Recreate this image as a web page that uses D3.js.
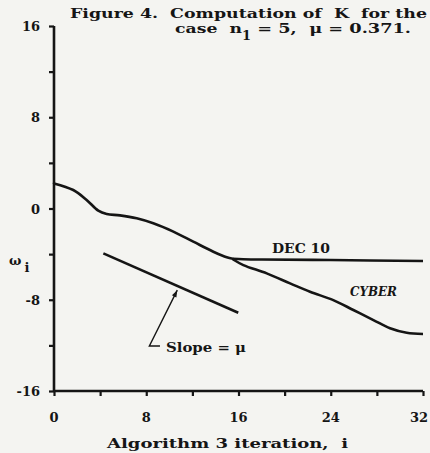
<!DOCTYPE html>
<html><head><meta charset="utf-8">
<script src="https://cdn.jsdelivr.net/npm/d3@7"></script>
<style>
html,body{margin:0;padding:0;background:#f4f4f1;}
svg{display:block;}
text{font-family:"DejaVu Serif","Liberation Serif",serif;font-weight:bold;fill:#151515;font-size:13px;white-space:pre;}
</style></head>
<body>
<svg id="c" width="430" height="453"></svg>
<script>
// Data
const xTicks = [0, 8, 16, 24, 32];
const xMinorTicks = [4, 12, 20, 28];
const yTicks = [16, 8, 0, -8, -16];
const yMinorTicks = [12, 4, -4, -12];
// Common part of both computations
const commonI = [0, 1.67, 2.83, 3.84, 4.57, 5.72, 7.17, 8.61, 10.35, 12.08, 13.82, 14.98, 15.5];
const commonW = [2.2, 1.62, 0.75, -0.19, -0.48, -0.6, -0.86, -1.3, -2.03, -2.91, -3.79, -4.28, -4.4];
const dec10I = [15.5, 16.4, 18, 24, 32];
const dec10W = [-4.4, -4.45, -4.47, -4.52, -4.6];
const cyberI = [15.5, 16.42, 18.45, 20.47, 22.2, 24.22, 25.96, 27.7, 29.14, 30.59, 32];
const cyberW = [-4.45, -4.96, -5.69, -6.56, -7.3, -8.03, -8.9, -9.78, -10.5, -10.9, -11.0];
const slopeI = [4.28, 15.98];
const slopeW = [-3.93, -9.14];
const leaderI = [9.19, 8.27, 10.69];
const leaderW = [-12.06, -12.06, -7.16];

const svg = d3.select("#c");
const x = d3.scaleLinear().domain([0, 32]).range([54, 423]);
const y = d3.scaleLinear().domain([-16, 16]).range([391, 26]);
const ink = "#151515";

// Axes
const xAxis = d3.axisBottom(x).tickValues(xTicks.concat(xMinorTicks)).tickSize(5).tickFormat("");
const gx = svg.append("g").attr("transform", `translate(0,${y(-16)})`).call(xAxis);
gx.selectAll("path.domain").attr("stroke", ink).attr("stroke-width", 2.6).attr("d", `M${x(0)},0H${x(32)}`);
gx.selectAll("line").attr("stroke", ink).attr("stroke-width", 2.2);
const xl = svg.append("g").selectAll("text").data(xTicks).join("text")
  .attr("y", 422).attr("text-anchor", "middle").text(d => d)
  .attr("x", d => x(d));
xl.each(function(d) {
  const w = this.getComputedTextLength();
  const cx = Math.min(x(d), 428 - w / 2);
  d3.select(this).attr("x", cx);
});

const yAxis = d3.axisLeft(y).tickValues(yTicks.concat(yMinorTicks)).tickSize(5).tickFormat("");
const gy = svg.append("g").attr("transform", `translate(${x(0)},0)`).call(yAxis);
gy.selectAll("path.domain").attr("stroke", ink).attr("stroke-width", 2.6).attr("d", `M0,${y(16)}V${y(-16)}`);
gy.selectAll("line").attr("stroke", ink).attr("stroke-width", 2.2);
svg.append("g").selectAll("text").data(yTicks).join("text")
  .attr("x", 40).attr("y", d => y(d) + 5).attr("text-anchor", "end").text(d => d);

// Curves
const line = d3.line().x(d => x(d[0])).y(d => y(d[1])).curve(d3.curveCatmullRom.alpha(0.5));
const zip = (a, b) => a.map((v, k) => [v, b[k]]);
svg.append("path").attr("d", line(zip(commonI, commonW))).attr("fill", "none").attr("stroke", ink).attr("stroke-width", 2.6).attr("stroke-linecap", "round");
svg.append("path").attr("d", line(zip(dec10I, dec10W))).attr("fill", "none").attr("stroke", ink).attr("stroke-width", 2.6);
svg.append("path").attr("d", line(zip(cyberI, cyberW))).attr("fill", "none").attr("stroke", ink).attr("stroke-width", 2.6);

// Slope reference line and leader
const straight = d3.line().x(d => x(d[0])).y(d => y(d[1]));
svg.append("path").attr("d", straight(zip(slopeI, slopeW))).attr("fill", "none").attr("stroke", ink).attr("stroke-width", 2.6);
svg.append("path").attr("d", straight(zip(leaderI, leaderW))).attr("fill", "none").attr("stroke", ink).attr("stroke-width", 1.4);
const tipX = x(leaderI[2]), tipY = y(leaderW[2]);
const bx = x(leaderI[1]), by = y(leaderW[1]);
const ang = Math.atan2(tipY - by, tipX - bx);
const ah = 7, aw = 2.5;
const p1 = [tipX - ah * Math.cos(ang) + aw * Math.sin(ang), tipY - ah * Math.sin(ang) - aw * Math.cos(ang)];
const p2 = [tipX - ah * Math.cos(ang) - aw * Math.sin(ang), tipY - ah * Math.sin(ang) + aw * Math.cos(ang)];
svg.append("path").attr("d", `M${tipX},${tipY}L${p1[0]},${p1[1]}L${p2[0]},${p2[1]}Z`).attr("fill", ink);

// Labels (widths matched to the typewritten originals)
function fitText(sel, w) { return sel.attr("textLength", w).attr("lengthAdjust", "spacingAndGlyphs"); }
fitText(svg.append("text").attr("x", 166).attr("y", 352).text("Slope = μ"), 80);
fitText(svg.append("text").attr("x", 272).attr("y", 253).text("DEC 10"), 58);
fitText(svg.append("text").attr("x", 350).attr("y", 296).style("font-style", "italic").text("CYBER"), 47);

// Title
fitText(svg.append("text").attr("x", 70).attr("y", 18).text("Figure 4.  Computation of  K  for the"), 357);
const t2 = svg.append("text").attr("x", 175).attr("y", 33);
t2.append("tspan").attr("textLength", 67).attr("lengthAdjust", "spacingAndGlyphs").text("case  n");
t2.append("tspan").attr("dy", 7).text("1");
t2.append("tspan").attr("dy", -7).attr("textLength", 160).attr("lengthAdjust", "spacingAndGlyphs").text(" = 5,  μ = 0.371.");

// Axis titles
const yl = svg.append("text").attr("x", 9).attr("y", 265);
yl.append("tspan").text("ω");
yl.append("tspan").attr("dy", 7).attr("dx", 3).text("i");
fitText(svg.append("text").attr("x", 107).attr("y", 448).text("Algorithm 3 iteration,  i"), 241);
</script>
</body></html>
